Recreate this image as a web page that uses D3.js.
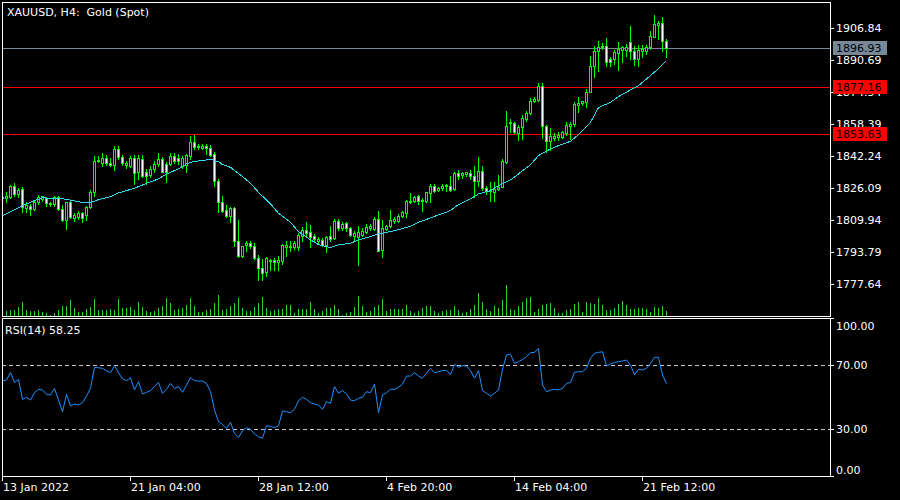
<!DOCTYPE html>
<html><head><meta charset="utf-8">
<script src="https://cdn.jsdelivr.net/npm/d3@7"></script>
<style>
html,body{margin:0;padding:0;background:#000;}
svg{display:block;}
</style></head><body>
<svg id="chart" width="900" height="500"></svg>
<script>
// ---------- data ----------
const chartTitle = "XAUUSD, H4:  Gold (Spot)";
const rsiTitle = "RSI(14) 58.25";
const opens = [1821.19,1821.39,1821.70,1827.45,1823.21,1825.94,1816.15,1817.51,1815.85,1819.53,
1821.02,1821.19,1818.86,1818.36,1821.70,1815.85,1810.44,1819.53,1811.45,1811.60,
1813.62,1812.81,1816.65,1824.22,1840.07,1839.01,1841.38,1839.01,1838.04,1846.12,
1842.24,1838.04,1837.69,1841.58,1834.31,1841.07,1834.67,1832.99,1836.03,1838.54,
1841.07,1838.54,1838.54,1842.74,1841.58,1837.69,1838.04,1842.39,1849.81,1847.43,
1846.78,1847.43,1846.63,1843.59,1830.12,1819.53,1815.50,1812.11,1816.15,1799.84,
1791.91,1797.67,1798.68,1797.32,1791.11,1786.06,1783.84,1789.39,1790.25,1788.89,
1789.39,1796.46,1796.46,1796.46,1796.46,1802.37,1805.24,1804.38,1802.37,1799.49,
1800.20,1797.82,1802.37,1801.20,1809.94,1806.25,1808.57,1806.25,1802.37,1801.87,
1802.87,1804.38,1806.25,1805.75,1810.79,1795.15,1805.75,1807.41,1809.94,1809.94,
1812.30,1813.82,1819.53,1820.03,1822.20,1820.03,1820.03,1823.92,1827.60,1825.58,
1826.24,1827.25,1827.60,1825.94,1834.01,1832.99,1833.30,1834.01,1832.65,1830.12,
1835.17,1826.44,1824.72,1824.22,1825.94,1827.10,1839.71,1859.25,1859.25,1854.20,
1857.02,1861.26,1864.29,1870.50,1870.85,1877.72,1857.88,1849.96,1851.67,1851.98,
1852.33,1854.00,1857.88,1858.74,1868.48,1869.14,1870.00,1875.04,1888.16,1895.73,
1897.41,1898.26,1891.55,1891.55,1894.37,1896.09,1896.09,1899.92,1895.73,1891.55,
1895.38,1895.73,1897.41,1902.80,1908.86,1909.51,1900.78];
const highs = [1822.55,1824.57,1827.95,1828.96,1826.59,1827.10,1819.53,1818.36,1820.19,1823.06,
1822.55,1821.70,1819.53,1822.55,1822.55,1817.87,1819.53,1820.03,1813.82,1814.98,
1814.48,1817.51,1825.58,1842.74,1842.74,1844.10,1843.09,1841.38,1847.44,1847.79,
1843.09,1840.22,1842.39,1843.09,1843.09,1843.09,1836.03,1837.34,1839.86,1844.10,
1841.88,1839.71,1844.10,1844.10,1843.59,1842.74,1843.59,1852.84,1853.18,1848.64,
1848.64,1848.64,1848.29,1844.41,1830.98,1822.20,1817.87,1816.65,1816.65,1810.44,
1797.32,1799.84,1799.84,1798.68,1792.62,1790.61,1791.41,1790.61,1791.11,1792.27,
1798.18,1799.84,1799.84,1799.49,1803.53,1806.55,1809.08,1807.92,1803.23,1801.51,
1801.00,1802.37,1807.41,1810.79,1810.79,1809.08,1809.08,1806.91,1804.89,1807.41,
1806.25,1808.27,1808.27,1811.60,1814.63,1810.29,1807.92,1815.34,1811.60,1813.32,
1814.98,1820.53,1823.92,1822.20,1822.91,1821.19,1824.57,1828.46,1828.46,1826.74,
1828.46,1828.46,1832.65,1834.67,1835.68,1834.67,1834.67,1835.68,1837.34,1841.88,
1837.69,1827.25,1829.27,1829.27,1833.15,1841.07,1865.45,1861.26,1859.55,1858.24,
1863.28,1865.10,1871.66,1872.17,1879.43,1879.43,1858.40,1856.72,1854.20,1854.50,
1855.01,1859.55,1859.55,1869.64,1872.17,1870.50,1876.40,1893.21,1898.26,1900.43,
1899.42,1902.14,1892.35,1896.09,1899.92,1898.26,1899.12,1908.35,1898.26,1898.76,
1898.61,1898.76,1905.48,1913.90,1910.52,1912.89,1901.64];
const lows = [1820.53,1819.17,1821.54,1822.55,1821.70,1814.48,1814.48,1812.81,1815.50,1818.16,
1820.03,1817.15,1817.51,1817.15,1815.50,1809.78,1805.75,1811.10,1809.93,1810.80,
1809.43,1810.44,1816.15,1822.20,1839.71,1837.69,1838.04,1837.34,1835.68,1841.07,
1838.19,1836.47,1836.82,1828.46,1830.98,1831.79,1828.46,1831.79,1834.67,1837.34,
1834.31,1829.27,1838.04,1839.01,1838.54,1836.47,1834.31,1841.07,1846.12,1846.12,
1845.92,1843.59,1842.74,1827.60,1814.13,1814.48,1811.60,1809.08,1797.32,1791.41,
1791.41,1794.79,1795.96,1790.61,1780.16,1780.16,1782.18,1785.05,1785.05,1785.05,
1788.08,1792.27,1794.44,1795.63,1795.13,1799.84,1801.51,1796.81,1798.98,1798.18,
1797.32,1793.94,1799.84,1800.70,1805.24,1805.24,1804.89,1802.21,1799.84,1787.73,
1802.37,1803.53,1805.40,1805.24,1794.44,1791.41,1805.24,1806.55,1808.57,1809.08,
1811.60,1811.60,1818.86,1819.53,1818.36,1814.98,1819.17,1819.53,1824.57,1825.08,
1825.43,1825.08,1825.08,1825.58,1830.98,1831.28,1832.29,1830.98,1821.70,1827.60,
1825.58,1823.41,1820.03,1820.03,1825.58,1826.79,1839.03,1854.85,1854.20,1850.67,
1851.18,1860.41,1863.79,1869.64,1870.15,1851.67,1844.41,1845.62,1850.67,1850.67,
1851.67,1853.34,1851.18,1857.88,1864.60,1868.48,1867.12,1874.69,1882.26,1885.64,
1896.60,1888.16,1888.16,1889.02,1885.99,1889.83,1893.21,1891.55,1888.67,1888.16,
1892.35,1894.07,1896.60,1902.45,1901.64,1895.38,1892.71];
const closes = [1821.70,1822.20,1827.60,1823.41,1825.43,1816.65,1818.01,1815.85,1819.53,1821.70,
1822.20,1818.86,1818.16,1821.70,1815.85,1810.44,1819.17,1811.60,1812.81,1813.62,
1811.45,1817.00,1824.22,1840.22,1840.72,1841.38,1839.03,1838.04,1846.12,1841.88,
1839.03,1839.03,1841.38,1834.01,1841.38,1832.65,1832.29,1836.03,1838.54,1841.07,
1834.67,1834.67,1842.74,1839.86,1839.86,1841.58,1843.09,1849.81,1846.93,1847.28,
1847.43,1846.63,1843.24,1830.12,1819.17,1814.98,1812.11,1816.15,1799.84,1791.91,
1796.97,1798.68,1797.32,1790.91,1785.86,1783.54,1790.91,1790.25,1788.89,1790.10,
1797.82,1797.82,1797.32,1798.48,1802.87,1805.24,1803.53,1801.87,1800.70,1800.70,
1797.82,1801.87,1800.70,1809.94,1806.25,1808.27,1806.25,1802.87,1803.73,1804.03,
1804.89,1806.91,1807.41,1810.79,1794.79,1806.25,1807.41,1810.29,1810.79,1812.30,
1814.13,1820.03,1820.03,1821.70,1820.03,1820.53,1824.22,1827.60,1825.08,1826.59,
1827.60,1827.95,1825.58,1834.01,1832.29,1833.81,1834.31,1832.29,1830.12,1835.17,
1826.24,1825.08,1825.43,1825.94,1827.10,1840.22,1857.88,1859.90,1854.50,1857.38,
1861.57,1864.29,1870.15,1871.36,1877.72,1857.88,1849.96,1852.84,1852.84,1853.34,
1854.50,1858.39,1858.74,1868.83,1869.14,1870.50,1875.04,1888.16,1895.73,1897.75,
1898.26,1889.83,1889.83,1894.92,1896.60,1897.75,1897.75,1895.38,1891.55,1896.09,
1896.60,1897.75,1903.31,1909.21,1909.87,1900.43,1896.93];
const volumes = [3000,3000,3600,3600,5400,8400,3600,3000,3000,3600,
2400,1800,600,1800,3600,6000,6000,9600,4800,2400,
2400,4200,5400,10200,3600,3600,3600,4200,3600,10200,
4800,4800,5400,3600,8400,5400,3000,2400,3000,4800,
6000,10800,7800,3600,4200,4800,6600,10800,6000,2400,
2400,3600,4200,7800,12600,3600,4200,6000,7800,10800,
4800,3000,3000,5400,7800,11400,4800,3000,3600,4200,
4200,6600,6600,1800,4200,4200,4200,8400,4200,1800,
3000,4800,4800,6600,4200,600,1800,2400,5400,12000,
6000,2400,3000,5400,6600,10200,3000,4200,4200,4200,
4200,6600,3000,1800,3000,4800,6000,6000,3000,1800,
3000,3600,3600,6000,3600,1800,2400,4200,6600,13800,
8400,4200,3000,6000,4800,9600,18600,4200,3600,6000,
8400,10800,11400,2400,4200,6600,7200,7800,4800,1800,
1800,3600,4200,7200,8400,2400,8400,7800,7200,10800,
6600,3600,3600,4800,7200,9000,6600,4200,4200,4800,
4800,4200,2400,5400,4800,6000,3000];
const maBars = [0,5,8,10,14,16,20,22,24,27,29,33,36,39,41,44,46,48,50,52,54,55,57,60,62,64,67,69,72,74,
77,79,82,84,87,89,92,94,97,99,102,104,107,109,112,114,117,119,122,124,127,129,132,134,137,139,142,144,147,149,
152,154,157,159,162,164,166];
const maValues = [1812.46,1817.51,1820.03,1821.39,1821.19,1820.69,1819.02,1819.02,1820.53,1822.05,
1823.92,1826.24,1828.76,1830.98,1833.50,1836.03,1838.54,1839.86,1840.22,1840.87,
1839.71,1838.19,1836.83,1832.14,1828.76,1824.20,1818.36,1813.62,1809.08,1804.38,
1800.20,1797.82,1796.31,1797.67,1798.48,1800.20,1801.87,1803.23,1804.38,1805.40,
1807.06,1809.08,1811.30,1812.81,1814.98,1818.01,1820.88,1823.41,1825.08,1827.60,
1830.48,1833.50,1838.19,1842.74,1846.12,1847.79,1849.96,1853.34,1859.55,1866.97,
1869.64,1872.52,1875.90,1878.07,1883.12,1886.65,1890.69];
const rsiValues = [60.0,60.6,65.4,59.0,61.0,48.5,49.8,48.1,52.7,54.8,
54.4,51.7,51.3,55.4,48.1,40.8,51.7,44.4,45.6,45.0,
46.5,50.6,55.4,68.5,68.3,67.9,66.3,65.2,69.6,65.2,
61.3,60.2,62.1,54.4,59.6,51.9,52.9,54.0,56.5,59.0,
52.3,54.8,58.5,55.4,56.5,52.9,57.5,62.1,60.2,60.0,
60.0,58.5,53.3,41.9,34.6,32.9,30.4,34.2,27.3,24.6,
29.0,30.8,29.8,26.9,25.2,24.2,32.1,31.5,31.0,31.9,
41.3,40.8,40.2,42.3,47.7,49.8,48.5,46.5,45.6,45.0,
42.3,47.1,46.0,56.5,52.3,54.0,51.9,48.1,47.7,49.2,
49.8,53.3,52.7,58.1,40.2,51.3,52.7,54.8,54.8,56.0,
58.1,63.1,63.1,65.2,63.1,61.7,64.8,67.9,65.2,65.8,
66.5,66.7,64.0,70.4,68.5,69.6,69.4,66.5,61.7,66.5,
54.0,52.3,50.6,52.3,54.4,67.3,76.3,76.7,71.0,72.1,
73.5,75.2,77.7,77.9,80.4,57.5,53.3,54.4,54.8,54.4,
55.4,58.5,59.0,65.4,65.8,65.8,67.9,74.2,77.3,77.9,
78.3,69.4,70.6,71.5,72.1,72.5,73.1,70.0,63.8,67.3,
66.9,67.9,71.0,74.8,74.8,63.8,58.25];
const priceTicks = [1906.84,1890.69,1874.54,1858.39,1842.24,1826.09,1809.94,1793.79,1777.64];
const rsiTicks = [100,70,30,0];
const rsiLevels = [70,30];
const timeLabels = ["13 Jan 2022","21 Jan 04:00","28 Jan 12:00","4 Feb 20:00","14 Feb 04:00","21 Feb 12:00"];
const timeBars = [0,32,64,96,128,160];
const currentPrice = 1896.93;
const priceLevels = [1877.16,1853.63];

// ---------- layout ----------
const L = 2, R = 830, MT = 2, MB = 316, RT = 318, RB = 476;
const FONT = "'DejaVu Sans', sans-serif";
const GREEN = "#00ff00", MA_COL = "#2fd9ee", RSI_COL = "#1e90ff", VOL_COL = "#32cd32";

const svg = d3.select("#chart");
svg.append("rect").attr("width",900).attr("height",500).attr("fill","#000");

const xs = d3.scaleLinear().domain([0, 207]).range([2, 830]);
const yP = d3.scaleLinear().domain([d3.min(priceTicks), d3.max(priceTicks)]).range([284.6, 28.6]);
const yR = d3.scaleLinear().domain([0, 100]).range([477, 317]);
const yV = d3.scaleLinear().domain([0, d3.max(volumes)]).range([316, 285]);
const cx = i => Math.round(xs(i));

const defs = svg.append("defs");
defs.append("clipPath").attr("id","clipMain").append("rect")
  .attr("x",L+1).attr("y",MT+1).attr("width",R-L-1).attr("height",MB-MT-1);
defs.append("clipPath").attr("id","clipRsi").append("rect")
  .attr("x",L+1).attr("y",RT+1).attr("width",R-L-1).attr("height",RB-RT-1);

const gMain = svg.append("g").attr("clip-path","url(#clipMain)");
const gRsi = svg.append("g").attr("clip-path","url(#clipRsi)");

// level lines
gMain.selectAll("line.lvl").data(priceLevels).join("line")
  .attr("x1",L).attr("x2",R)
  .attr("y1",d=>Math.floor(yP(d))+0.5).attr("y2",d=>Math.floor(yP(d))+0.5)
  .attr("stroke","#ff0000").attr("stroke-width",1);
gMain.append("line").attr("x1",L).attr("x2",R)
  .attr("y1",Math.floor(yP(currentPrice))+0.5).attr("y2",Math.floor(yP(currentPrice))+0.5)
  .attr("stroke","#778899").attr("stroke-width",1);

// rsi levels
gRsi.selectAll("line.rl").data(rsiLevels).join("line")
  .attr("x1",L).attr("x2",R)
  .attr("y1",d=>Math.floor(yR(d))+0.5).attr("y2",d=>Math.floor(yR(d))+0.5)
  .attr("stroke","#c8c8c8").attr("stroke-width",1).attr("stroke-dasharray","4,3");

const bars = d3.range(opens.length).map(i => ({i, o:opens[i], h:highs[i], l:lows[i], c:closes[i], v:volumes[i]}));

// volumes
gMain.selectAll("rect.vol").data(bars).join("rect")
  .attr("x",d=>cx(d.i)).attr("y",d=>Math.round(yV(d.v)))
  .attr("width",1).attr("height",d=>MB-Math.round(yV(d.v)))
  .attr("fill",VOL_COL);

// wicks
gMain.selectAll("rect.wick").data(bars).join("rect")
  .attr("x",d=>cx(d.i)).attr("y",d=>Math.round(yP(d.h)))
  .attr("width",1).attr("height",d=>Math.round(yP(d.l))-Math.round(yP(d.h))+1)
  .attr("fill",GREEN);
// bodies
const bodyTop = d => Math.round(yP(Math.max(d.o,d.c)));
const bodyBot = d => Math.round(yP(Math.min(d.o,d.c)));
gMain.selectAll("rect.body").data(bars).join("rect")
  .attr("x",d=>cx(d.i)-1).attr("y",bodyTop)
  .attr("width",3).attr("height",d=>bodyBot(d)-bodyTop(d)+1)
  .attr("fill",GREEN);
gMain.selectAll("rect.inner").data(bars.filter(d=>bodyBot(d)-bodyTop(d)>=2)).join("rect")
  .attr("x",d=>cx(d.i)).attr("y",d=>bodyTop(d)+1)
  .attr("width",1).attr("height",d=>bodyBot(d)-bodyTop(d)-1)
  .attr("fill",d=>d.c>=d.o?"#000":"#fff");

// moving average
const maPts = maBars.map((b,k)=>[xs(b)+0.5, yP(maValues[k])]);
gMain.append("path").attr("d", d3.line()(maPts))
  .attr("fill","none").attr("stroke",MA_COL).attr("stroke-width",1)
  .attr("shape-rendering","crispEdges");

// RSI line
const rsiPts = rsiValues.map((v,i)=>[xs(i)+0.5, yR(v)]);
gRsi.append("path").attr("d", d3.line()(rsiPts))
  .attr("fill","none").attr("stroke",RSI_COL).attr("stroke-width",1);

// borders
svg.append("rect").attr("x",L+0.5).attr("y",MT+0.5).attr("width",R-L).attr("height",MB-MT)
  .attr("fill","none").attr("stroke","#fff");
svg.append("rect").attr("x",L+0.5).attr("y",RT+0.5).attr("width",R-L).attr("height",RB-RT)
  .attr("fill","none").attr("stroke","#fff");

function styleAxis(g){
  g.select(".domain").remove();
  g.selectAll("line").attr("stroke","#fff");
  g.selectAll("text").attr("fill","#fff").attr("font-family",FONT).attr("font-size",11);
}

// price axis
const pAxis = svg.append("g").attr("transform",`translate(${R},0)`)
  .call(d3.axisRight(yP).tickValues(priceTicks).tickSize(4).tickPadding(2).tickFormat(d3.format(".2f")));
pAxis.selectAll(".tick").attr("transform", d=>`translate(0,${Math.floor(yP(d))+0.5})`);
pAxis.selectAll(".tick line").attr("x1",0.5).attr("x2",4);
styleAxis(pAxis);

// rsi axis
const rAxis = svg.append("g").attr("transform",`translate(${R},0)`)
  .call(d3.axisRight(yR).tickValues(rsiTicks).tickSize(4).tickPadding(2).tickFormat(d3.format(".2f")));
rAxis.selectAll(".tick").attr("transform", d=>`translate(0,${Math.min(RB,Math.max(RT,Math.floor(yR(d))))+0.5})`);
rAxis.selectAll(".tick line").attr("x1",0.5).attr("x2",4);
rAxis.selectAll(".tick text").attr("y", d=> d===100 ? 7.5 : (d===0 ? -6.5 : 0));
styleAxis(rAxis);

// time axis
const tAxis = svg.append("g").attr("transform",`translate(0,${RB+1})`)
  .call(d3.axisBottom(xs).tickValues(timeBars).tickSize(4).tickPadding(2).tickFormat((d,k)=>timeLabels[k]));
tAxis.selectAll(".tick").attr("transform", d=>`translate(${cx(d)+0.5},0)`);
tAxis.selectAll(".tick text").attr("text-anchor","start").attr("x",0.5);
styleAxis(tAxis);

// price tag boxes
const tags = [{v:currentPrice, fill:"#778899"}].concat(priceLevels.map(v=>({v, fill:"#ff0000"})));
const tg = svg.selectAll("g.tag").data(tags).join("g")
  .attr("transform", d=>`translate(833,${Math.floor(yP(d.v))})`);
tg.append("rect").attr("x",0).attr("y",-7).attr("width",54).attr("height",14).attr("fill",d=>d.fill);
tg.append("text").attr("x",3).attr("y",0.5).attr("dy","0.35em")
  .attr("font-family",FONT).attr("font-size",11).attr("fill","#000")
  .text(d=>d3.format(".2f")(d.v));

// titles
svg.append("text").attr("x",7).attr("y",16).style("white-space","pre")
  .attr("font-family",FONT).attr("font-size",11).attr("fill","#fff").text(chartTitle);
svg.append("text").attr("x",5).attr("y",333.5)
  .attr("font-family",FONT).attr("font-size",11).attr("fill","#fff").text(rsiTitle);
</script>
</body></html>
